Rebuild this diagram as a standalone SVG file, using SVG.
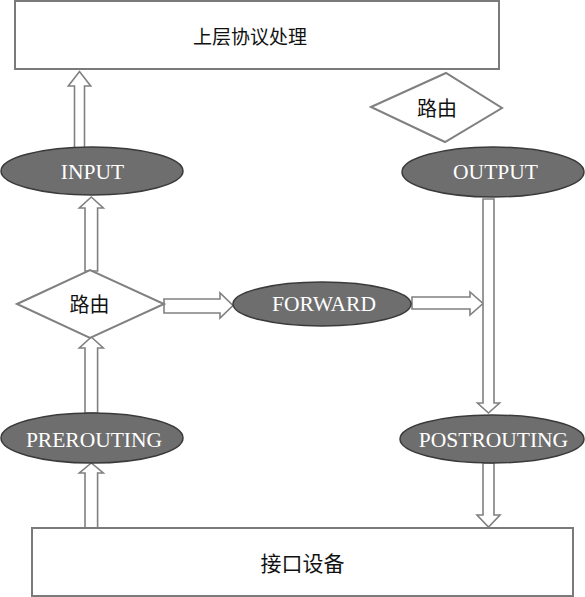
<svg xmlns="http://www.w3.org/2000/svg" width="585" height="597" viewBox="0 0 585 597">
<style>
.box{fill:#fff;stroke:#7a7a7a;stroke-width:2}
.dia{fill:#fff;stroke:#808080;stroke-width:2}
.ell{fill:#6e6e6e;stroke:#3a3a3a;stroke-width:1.5}
.arr{fill:#fff;stroke:#808080;stroke-width:1.6;stroke-linejoin:miter}
.cn{font-family:"Noto Sans CJK SC","Liberation Serif",serif;font-size:20px;fill:#111;text-anchor:middle}
.en{font-family:"Liberation Serif","Times New Roman",serif;font-size:21.5px;fill:#fff;text-anchor:middle}
</style>
<rect width="585" height="597" fill="#fff"/>
<g id="connectors">
<polygon class="arr" points="74.5,148 74.5,86 68.3,86 79.5,71.5 90.7,86 84.5,86 84.5,148"/>
<polygon class="arr" points="85,271 85,208 79.3,208 91.3,197 103.3,208 97.6,208 97.6,271"/>
<polygon class="arr" points="85,413 85,348 79.3,348 91.3,337 103.3,348 97.6,348 97.6,413"/>
<polygon class="arr" points="85,528 85,473 79.3,473 91.3,463 103.3,473 97.6,473 97.6,528"/>
<polygon class="arr" points="164,299 220,299 220,293 233,305.5 220,318 220,313 164,313"/>
<polygon class="arr" points="412,297 470,297 470,292 483,303.5 470,315 470,309 412,309"/>
<polygon class="arr" points="483,199 494,199 494,403 499.5,403 488.5,413 477.5,403 483,403"/>
<polygon class="arr" points="483,463 494,463 494,515 500,515 488.5,527 477,515 483,515"/>
</g>
<g id="upper">
<rect class="box" x="15" y="1" width="484" height="68"/>
<text class="cn" x="250" y="44" style="font-size:19px">上层协议处理</text>
</g>
<g id="route-out">
<polygon class="dia" points="371,107 446,73 502,108 445,142"/>
<text class="cn" x="437" y="116">路由</text>
</g>
<g id="input">
<ellipse class="ell" cx="92" cy="171" rx="91" ry="24"/>
<text class="en" x="92.5" y="178.5">INPUT</text>
</g>
<g id="output">
<ellipse class="ell" cx="493" cy="172" rx="91" ry="25"/>
<text class="en" x="495.5" y="179">OUTPUT</text>
</g>
<g id="route-in">
<polygon class="dia" points="17,304 90,270 164,304 90,338"/>
<text class="cn" x="89.5" y="311.5">路由</text>
</g>
<g id="forward">
<ellipse class="ell" cx="322" cy="304" rx="89" ry="22"/>
<text class="en" x="324" y="311">FORWARD</text>
</g>
<g id="prerouting">
<ellipse class="ell" cx="92" cy="438" rx="91" ry="25"/>
<text class="en" x="94" y="447">PREROUTING</text>
</g>
<g id="postrouting">
<ellipse class="ell" cx="492" cy="439" rx="92" ry="24"/>
<text class="en" x="493.5" y="447">POSTROUTING</text>
</g>
<g id="device">
<rect class="box" x="32" y="528" width="541" height="68"/>
<text class="cn" x="302.5" y="571" style="font-size:21px">接口设备</text>
</g>
</svg>
